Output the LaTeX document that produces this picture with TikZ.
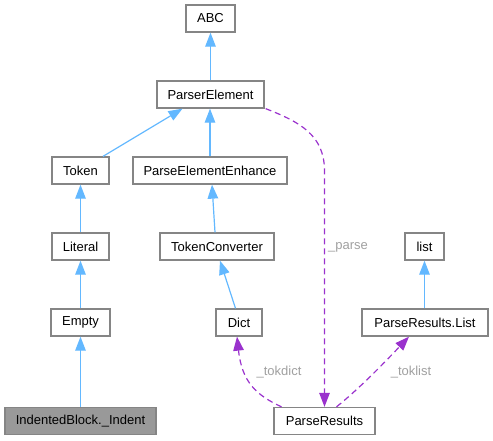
\documentclass[tikz,border=0pt]{standalone}
\usepackage{fontspec}
\setmainfont{Liberation Sans}
\usetikzlibrary{arrows.meta,calc}
\definecolor{inhblue}{HTML}{63B8FF}
\definecolor{usepurple}{HTML}{9A32CD}
\definecolor{boxgray}{HTML}{858585}
\definecolor{lblgray}{HTML}{A0A0A0}
\definecolor{fillgray}{HTML}{999999}
\begin{document}
\begin{tikzpicture}[x=1pt,y=-1pt,
  cls/.style={draw=boxgray,line width=1.3pt,fill=white,minimum height=27pt,inner sep=0pt,font=\fontsize{13}{15}\selectfont},
  inh/.style={draw=inhblue,line width=1.2pt,-{Triangle[length=14pt,width=10.5pt]}},
  usedash/.style={draw=usepurple,line width=1.2pt,dash pattern=on 6pt off 4pt,-{Triangle[length=14pt,width=10.5pt]}},
  elbl/.style={text=lblgray,font=\fontsize{13}{15}\selectfont,inner sep=0pt}]
\useasboundingbox (0,0) rectangle (493,440);
\node[cls,minimum width=49pt] (abc) at (210.5,18.5) {ABC};
\node[cls,minimum width=107pt] (pe) at (210.5,94.5) {ParserElement};
\node[cls,minimum width=57pt] (tok) at (80.5,170.5) {Token};
\node[cls,minimum width=154pt] (pee) at (210,170.5) {ParseElementEnhance};
\node[cls,minimum width=57pt] (lit) at (80.5,246.5) {Literal};
\node[cls,minimum width=114pt] (tc) at (217,246.5) {TokenConverter};
\node[cls,minimum width=39pt] (lst) at (424.5,246.5) {list};
\node[cls,minimum width=59pt] (emp) at (80.5,322.5) {Empty};
\node[cls,minimum width=46pt] (dict) at (239,322.5) {Dict};
\node[cls,minimum width=126pt] (prl) at (425,322.5) {ParseResults.List};
\node[cls,minimum width=151pt,fill=fillgray] (ind) at (80.5,421) {IndentedBlock.\_Indent};
\node[cls,minimum width=101pt] (pr) at (324.5,421) {ParseResults};
% inheritance
\draw[inh] (pe.north) -- (abc.south);
\draw[inh] ([xshift=22.5pt]tok.north) -- ([xshift=-28pt]pe.south);
\draw[inh] (pee.north) -- (pee.north |- pe.south);
\draw[inh] ([xshift=-2pt]tc.north) -- ([xshift=2pt]pee.south);
\draw[inh] (lit.north) -- (tok.south);
\draw[inh] (emp.north) -- (lit.south);
\draw[inh] (ind.north) -- (emp.south);
\draw[inh] ([xshift=-3.5pt]dict.north) -- ([xshift=3pt]tc.south);
\draw[inh] (prl.north -| lst.south) -- (lst.south);
% usage
\draw[usedash] ([xshift=1pt]pe.south east) .. controls (300,122) and (324,135) .. (324.5,170) -- (pr.north);
\draw[usedash] ([xshift=-43pt]pr.north) .. controls (256,395) and (242,382) .. ([xshift=-2pt]dict.south);
\draw[usedash] ([xshift=12pt]pr.north) .. controls (360,388) and (385,362) .. ([xshift=-16pt]prl.south);
\node[elbl,anchor=west] (lparse) at (328,247) {\_parse};
\node[elbl] (ltokdict) at (279,372) {\_tokdict};
\node[elbl] (ltoklist) at (411,372) {\_toklist};
\end{tikzpicture}
\end{document}
